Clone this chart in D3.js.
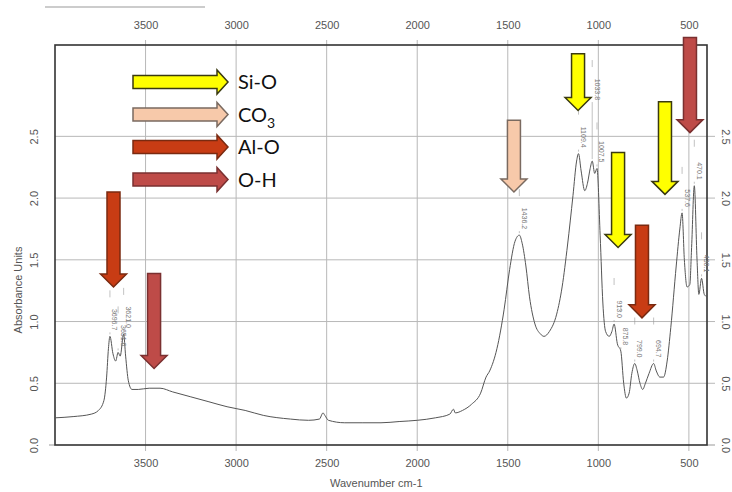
<!DOCTYPE html>
<html>
<head>
<meta charset="utf-8">
<script src="https://cdn.jsdelivr.net/npm/d3@7"></script>
<style>
  html, body { margin: 0; padding: 0; background: #fff; }
  svg { display: block; }
</style>
</head>
<body>
<svg id="chart" width="732" height="492"></svg>
<script>
// ---------- data ----------
const wavenumbers = [4000,3900,3800,3760,3730,3715,3705,3696.7,3680,3665,3651.6,3640,3621,3610,3595,3575,3540,3480,3420,3350,3250,3150,3050,2950,2850,2700,2600,2540,2520,2510,2490,2400,2300,2200,2100,2000,1900,1820,1800,1790,1750,1700,1650,1620,1600,1560,1520,1490,1460,1436.2,1420,1400,1380,1350,1320,1300,1270,1230,1200,1170,1140,1120,1109.4,1095,1075,1060,1045,1033.8,1020,1007.5,990,975,960,940,925,913,895,875.8,860,845,830,815,799,785,770,755,740,720,694.7,680,660,640,620,600,570,550,537.6,525,510,495,485,470.1,455,445,430.1,415,400];
const absorbance  = [0.22,0.23,0.25,0.28,0.36,0.55,0.78,0.88,0.74,0.68,0.75,0.72,0.90,0.72,0.52,0.45,0.45,0.46,0.46,0.43,0.39,0.35,0.31,0.28,0.24,0.21,0.20,0.21,0.26,0.24,0.20,0.18,0.18,0.18,0.19,0.20,0.22,0.25,0.29,0.26,0.28,0.33,0.42,0.55,0.60,0.78,1.10,1.42,1.65,1.70,1.63,1.45,1.20,0.98,0.90,0.88,0.92,1.06,1.28,1.62,2.02,2.30,2.36,2.22,2.06,2.12,2.24,2.30,2.20,2.24,1.70,1.15,0.92,0.88,0.92,0.98,0.82,0.76,0.50,0.38,0.42,0.58,0.66,0.60,0.50,0.45,0.50,0.58,0.66,0.60,0.55,0.55,0.68,0.95,1.45,1.75,1.88,1.50,1.28,1.30,1.60,2.10,1.50,1.22,1.35,1.22,1.20];

const peakWavenumbers = [3696.7,3651.6,3621,1436.2,1109.4,1033.8,1007.5,913,875.8,799,694.7,537.6,470.1,430.1];
const peakLabels = ["3696.7","3651.6","3621.0","1436.2","1109.4","1033.8","1007.5","913.0","875.8","799.0","694.7","537.6","470.1","430.1"];

const xTicks = [3500,3000,2500,2000,1500,1000,500];
const yTicks = [0.0,0.5,1.0,1.5,2.0,2.5];

const bandNames = ["Si-O","CO3","Al-O","O-H"];
const arrowBands = ["Al-O","O-H","CO3","Si-O","Si-O","Al-O","Si-O","O-H"];
const arrowWavenumbers = [3677,3453,1466,1112,891,759,632,494];
const arrowTop = [2.05,1.39,2.63,3.17,2.37,1.78,2.78,3.30];
const arrowTip = [1.28,0.62,2.05,2.71,1.60,1.03,2.03,2.53];

// ---------- styles ----------
const bandFill   = {"Si-O":"#ffff00","CO3":"#f7c9aa","Al-O":"#c83c14","O-H":"#be4b48"};
const bandStroke = {"Si-O":"#3a3a10","CO3":"#7a6a60","Al-O":"#7a2a10","O-H":"#7a3030"};

const svg = d3.select("#chart");
const plot = {left:55, right:707, top:45, bottom:445};

const x = d3.scaleLinear().domain([4000,400]).range([plot.left, plot.right]);
const y = d3.scaleLinear().domain([0,3.24]).range([plot.bottom, plot.top]);

// stray scan line top-left
svg.append("line").attr("x1",45).attr("x2",205).attr("y1",7).attr("y2",7)
  .attr("stroke","#999").attr("stroke-width",1);

// gridlines
const grid = svg.append("g");
grid.selectAll(".vg").data(xTicks).enter().append("line")
  .attr("x1",d=>x(d)).attr("x2",d=>x(d))
  .attr("y1",plot.top-5).attr("y2",plot.bottom+6)
  .attr("stroke","#b8b8b8").attr("stroke-width",1);
grid.selectAll(".hg").data(yTicks.filter(d=>d>0)).enter().append("line")
  .attr("x1",plot.left).attr("x2",plot.right+8)
  .attr("y1",d=>y(d)).attr("y2",d=>y(d))
  .attr("stroke","#b8b8b8").attr("stroke-width",1);
grid.append("line").attr("x1",plot.left-6).attr("x2",plot.left).attr("y1",y(0)).attr("y2",y(0)).attr("stroke","#999");
grid.append("line").attr("x1",plot.right).attr("x2",plot.right+8).attr("y1",y(0)).attr("y2",y(0)).attr("stroke","#999");

// axes labels via d3 axes (text only)
const tickFont = "'Liberation Sans', Arial, sans-serif";
const topAxis = svg.append("g").attr("transform",`translate(0,${plot.top})`)
  .call(d3.axisTop(x).tickValues(xTicks).tickSize(0).tickPadding(16).tickFormat(d3.format("d")));
const botAxis = svg.append("g").attr("transform",`translate(0,${plot.bottom})`)
  .call(d3.axisBottom(x).tickValues(xTicks).tickSize(0).tickPadding(14).tickFormat(d3.format("d")));
[topAxis, botAxis].forEach(g=>{
  g.select(".domain").remove();
  g.selectAll("text").attr("fill","#555").style("font-family",tickFont).style("font-size","11px");
});

const leftAxis = svg.append("g").attr("transform",`translate(${plot.left},0)`)
  .call(d3.axisLeft(y).tickValues(yTicks).tickSize(0).tickFormat(d3.format(".1f")));
leftAxis.select(".domain").remove();
leftAxis.selectAll("text").attr("x",0).attr("dy",null).attr("text-anchor","middle")
  .attr("transform","translate(-17,0) rotate(-90)").attr("y",0)
  .attr("fill","#555").style("font-family",tickFont).style("font-size","11px");

const rightAxis = svg.append("g").attr("transform",`translate(${plot.right},0)`)
  .call(d3.axisRight(y).tickValues(yTicks).tickSize(0).tickFormat(d3.format(".1f")));
rightAxis.select(".domain").remove();
rightAxis.selectAll("text").attr("x",0).attr("dy",null).attr("text-anchor","middle")
  .attr("transform","translate(15,0) rotate(90)").attr("y",0)
  .attr("fill","#555").style("font-family",tickFont).style("font-size","11px");

// axis titles
svg.append("text").attr("x",330).attr("y",487).text("Wavenumber cm-1")
  .attr("fill","#555").style("font-family",tickFont).style("font-size","11px");
svg.append("text").attr("transform",`translate(22,${(plot.top+plot.bottom)/2+45}) rotate(-90)`)
  .attr("text-anchor","middle").text("Absorbance Units")
  .attr("fill","#555").style("font-family",tickFont).style("font-size","11px");

// frame
svg.append("rect").attr("x",plot.left).attr("y",plot.top)
  .attr("width",plot.right-plot.left).attr("height",plot.bottom-plot.top)
  .attr("fill","none").attr("stroke","#333").attr("stroke-width",1.6);

// spectrum
const spectrum = wavenumbers.map((w,i)=>({w, a:absorbance[i]}));
const line = d3.line().x(d=>x(d.w)).y(d=>y(d.a)).curve(d3.curveMonotoneX);
svg.append("path").datum(spectrum).attr("d",line)
  .attr("fill","none").attr("stroke","#555").attr("stroke-width",1);

// peak labels (a label is lifted when the next one is too close)
const absAt = w => absorbance[wavenumbers.indexOf(w)];
const pl = svg.append("g");
peakWavenumbers.forEach((w,i)=>{
  const px = x(w), py = y(absAt(w));
  const next = peakWavenumbers[i+1];
  const lift = (next !== undefined && x(next) - px < 5) ? 55 : 0;
  const bottom = py - 4 - lift;
  pl.append("line").attr("x1",px).attr("x2",px).attr("y1",py-2).attr("y2",bottom)
    .attr("stroke","#999").attr("stroke-width",0.6);
  pl.append("line").attr("x1",px).attr("x2",px).attr("y1",bottom-42).attr("y2",bottom-35)
    .attr("stroke","#999").attr("stroke-width",0.6);
  pl.append("text").attr("transform",`translate(${px+2.5},${bottom-2}) rotate(90)`)
    .attr("text-anchor","end").text(peakLabels[i])
    .attr("fill","#777").style("font-family",tickFont).style("font-size","7px");
});

// down arrows
function downArrow(cx, yTop, yTip) {
  const sw = 6.5, hw = 13, hl = 13;
  return `M${cx-sw},${yTop}L${cx+sw},${yTop}L${cx+sw},${yTip-hl}L${cx+hw},${yTip-hl}L${cx},${yTip}L${cx-hw},${yTip-hl}L${cx-sw},${yTip-hl}Z`;
}
svg.append("g").selectAll("path").data(arrowBands).enter().append("path")
  .attr("d",(b,i)=>downArrow(x(arrowWavenumbers[i]), y(arrowTop[i]), y(arrowTip[i])))
  .attr("fill",b=>bandFill[b]).attr("stroke",b=>bandStroke[b]).attr("stroke-width",1.5)
  .attr("stroke-linejoin","miter");

// legend (horizontal arrows)
function rightArrow(x0, x1, yc) {
  const sh = 6.5, hh = 12, hl = 11;
  return `M${x0},${yc-sh}L${x1-hl},${yc-sh}L${x1-hl},${yc-hh}L${x1},${yc}L${x1-hl},${yc+hh}L${x1-hl},${yc+sh}L${x0},${yc+sh}Z`;
}
const legend = svg.append("g");
bandNames.forEach((b,i)=>{
  const yc = 82 + i*32.5;
  legend.append("path").attr("d",rightArrow(133,228,yc))
    .attr("fill",bandFill[b]).attr("stroke",bandStroke[b]).attr("stroke-width",1.5);
  const t = legend.append("text").attr("x",238).attr("y",yc+7)
    .attr("fill","#111").style("font-family","Lato, 'Open Sans', sans-serif").style("font-size","20px");
  if (b === "CO3") {
    t.append("tspan").text("CO");
    t.append("tspan").attr("dy",6).style("font-size","14px").text("3");
  } else {
    t.text(b);
  }
});
</script>
</body>
</html>
